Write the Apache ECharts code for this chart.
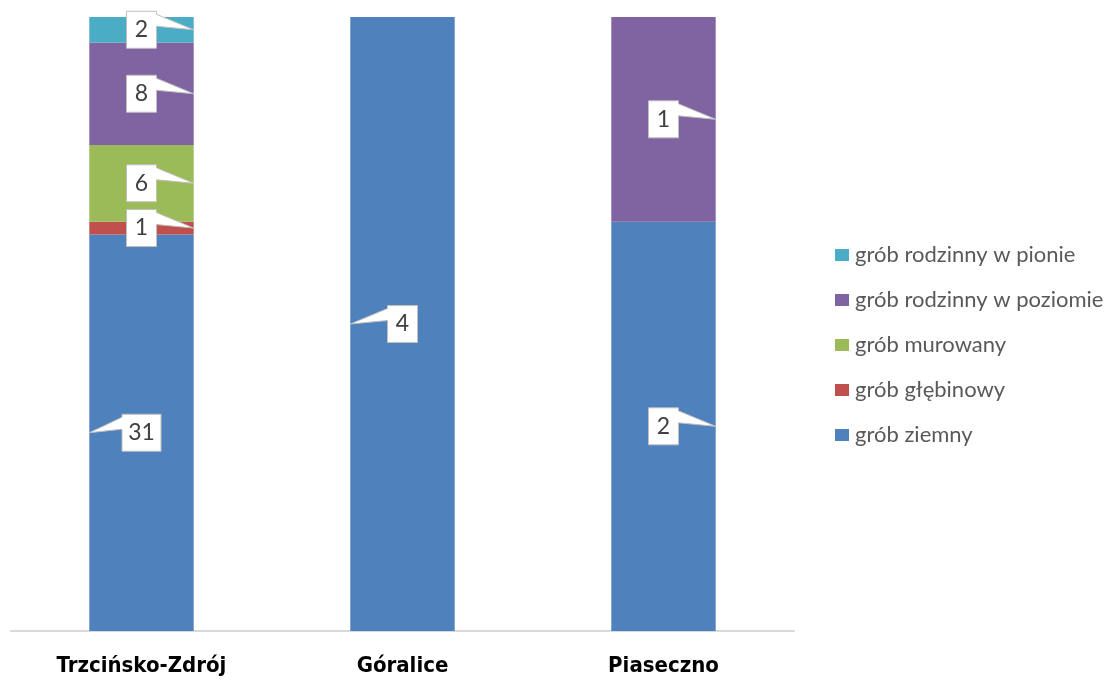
<!DOCTYPE html>
<html>
<head>
<meta charset="utf-8">
<script src="https://cdn.jsdelivr.net/npm/echarts@6/dist/echarts.min.js"></script>
<style>html,body{margin:0;padding:0;background:#fff}#c{width:1110px;height:682px}</style>
</head>
<body>
<div id="c"></div>
<script>
const categories = ['Trzcińsko-Zdrój', 'Góralice', 'Piaseczno'];
const seriesNames = ['grób ziemny', 'grób głębinowy', 'grób murowany', 'grób rodzinny w poziomie', 'grób rodzinny w pionie'];
const ziemny = [31, 4, 2];
const glebinowy = [1, 0, 0];
const murowany = [6, 0, 0];
const poziomie = [8, 0, 1];
const pionie = [2, 0, 0];
const colors = ['#4f81bd', '#c0504d', '#9bbb59', '#8064a2', '#4bacc6'];

const values = [ziemny, glebinowy, murowany, poziomie, pionie];
const totals = categories.map((_, i) => values.reduce((s, arr) => s + arr[i], 0));
const pct = values.map(arr => arr.map((v, i) => v / totals[i] * 100));

// callout side per series / category (layout)
const leftSide = { '0-0': true, '0-1': true };

const calloutData = [];
categories.forEach((_, c) => {
  let acc = 0;
  values.forEach((arr, s) => {
    const p = pct[s][c];
    if (arr[c] > 0) {
      calloutData.push([c, acc, acc + p, arr[c], leftSide[s + '-' + c] ? 1 : 0]);
    }
    acc += p;
  });
});

const chart = echarts.init(document.getElementById('c'));
const series = seriesNames.map((name, s) => ({
  name, type: 'bar', stack: 'total', barWidth: '40%',
  itemStyle: { color: colors[s] },
  emphasis: { disabled: true },
  data: pct[s]
}));
series.push({
  type: 'custom', coordinateSystem: 'cartesian2d', z: 10, clip: false, silent: true,
  encode: { x: 0, y: [1, 2] },
  data: calloutData,
  renderItem: function (params, api) {
    const c = api.value(0), y0 = api.value(1), y1 = api.value(2), v = api.value(3), left = api.value(4);
    const mid = api.coord([c, (y0 + y1) / 2]);
    const band = api.size([1, 0])[0];
    const half = band * 0.2;
    const txt = String(v);
    const w = txt.length > 1 ? 39 : 30, h = 37;
    const L = mid[0] - w / 2, R = mid[0] + w / 2, T = mid[1] - h / 2, B = mid[1] + h / 2;
    let pts;
    if (left) {
      const tx = mid[0] - half;
      pts = [[L, T], [R, T], [R, B], [L, B], [L, T + 15], [tx, mid[1]], [L, T + 3]];
    } else {
      const tx = mid[0] + half;
      pts = [[L, T], [R, T], [R, T + 3], [tx, mid[1]], [R, T + 15], [R, B], [L, B]];
    }
    return {
      type: 'group',
      children: [
        { type: 'polygon', shape: { points: pts }, style: { fill: '#ffffff', stroke: '#bfbfbf', lineWidth: 1 } },
        { type: 'text', x: mid[0], y: mid[1], style: { text: txt, fill: '#404040', font: '23px Lato, "Open Sans", sans-serif', align: 'center', verticalAlign: 'middle' } }
      ]
    };
  }
});

chart.setOption({
  animation: false,
  color: colors,
  grid: { left: 11, right: 316, top: 17, bottom: 51, containLabel: false },
  legend: {
    orient: 'vertical', left: 835, top: 244, itemGap: 23, itemWidth: 14, itemHeight: 12,
    padding: 0,
    icon: 'rect',
    data: seriesNames.slice().reverse(),
    textStyle: { fontFamily: 'Lato, "Open Sans", sans-serif', fontSize: 22, color: '#595959', padding: [0, 0, 0, 1] },
    selectedMode: false
  },
  xAxis: {
    type: 'category', data: categories,
    axisLine: { lineStyle: { color: '#d9d9d9', width: 2 } },
    axisTick: { show: false },
    axisLabel: { margin: 24, color: '#000', fontSize: 22, fontWeight: 'bold', fontFamily: '"Liberation Sans Narrow", "DejaVu Sans Condensed", "Liberation Sans", sans-serif' }
  },
  yAxis: { type: 'value', min: 0, max: 100, show: false, splitLine: { show: false } },
  series
});
</script>
</body>
</html>
